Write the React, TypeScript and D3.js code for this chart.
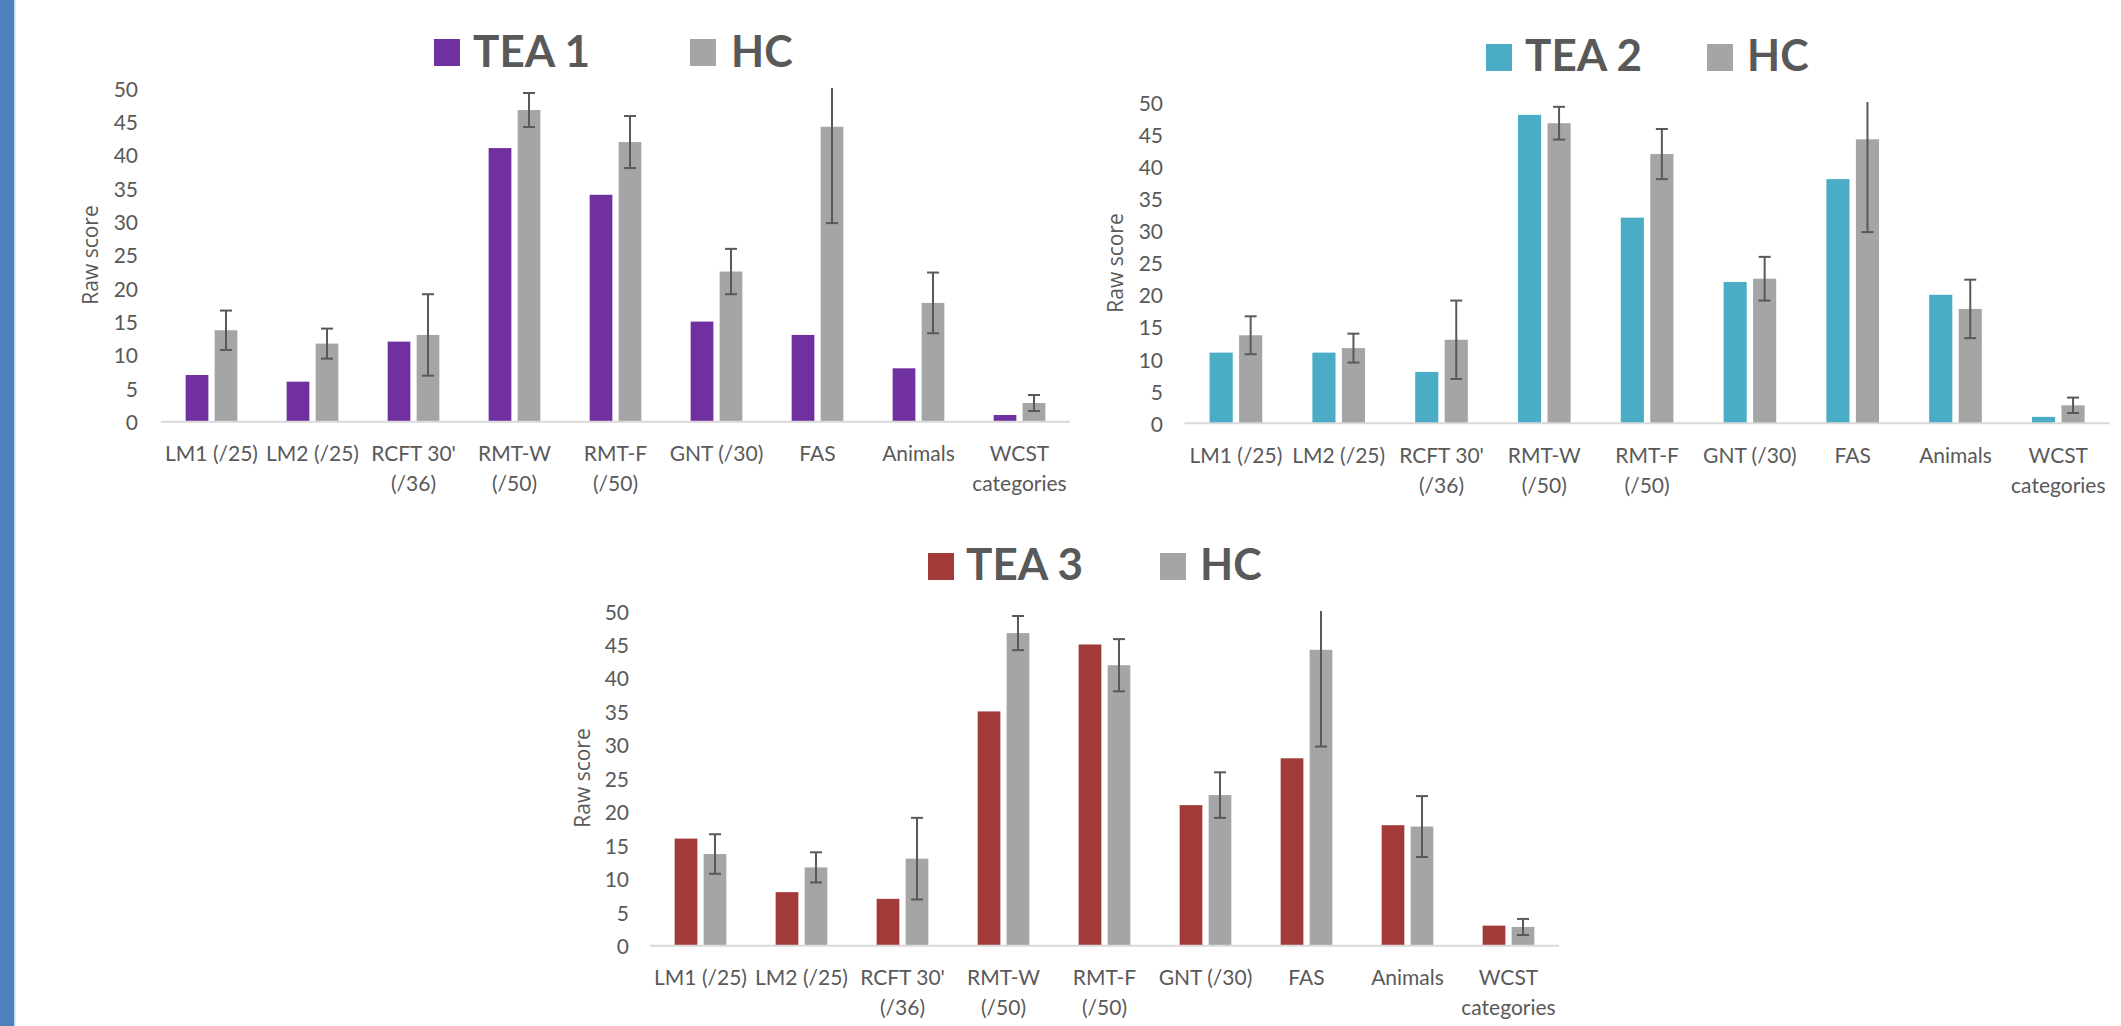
import React from 'react';
import * as d3 from 'd3';

const categories = ['LM1', 'LM2', 'RCFT', 'RMT-W', 'RMT-F', 'GNT', 'FAS', 'Animals', 'WCST'];
const categoryLabels = [
  ['LM1 (/25)'],
  ['LM2 (/25)'],
  ["RCFT 30'", '(/36)'],
  ['RMT-W', '(/50)'],
  ['RMT-F', '(/50)'],
  ['GNT (/30)'],
  ['FAS'],
  ['Animals'],
  ['WCST', 'categories'],
];

const tea1 = [7, 6, 12, 41, 34, 15, 13, 8, 1];
const tea2 = [11, 11, 8, 48, 32, 22, 38, 20, 1];
const tea3 = [16, 8, 7, 35, 45, 21, 28, 18, 3];
const hcMean = [13.7, 11.7, 13, 46.7, 41.9, 22.5, 44.2, 17.8, 2.8];
const hcErr = [2.95, 2.25, 6.1, 2.55, 3.9, 3.4, 14.45, 4.55, 1.2];

const yTicks = [0, 5, 10, 15, 20, 25, 30, 35, 40, 45, 50];

const TEXT = '#595959';
const HC_COLOR = '#A5A5A5';

const panels = [
  {
    name: 'TEA 1', values: tea1, color: '#7030A0',
    x0: 161, band: 101, y0: 421.7, yTop: 88,
    tickX: 138, rawX: 90, rawY: 255,
    legend: { sq: 434, sqY: 39, text: 473, base: 67, hcSq: 690, hcText: 731 },
  },
  {
    name: 'TEA 2', values: tea2, color: '#4BACC6',
    x0: 1184.5, band: 102.8, y0: 423.3, yTop: 102,
    tickX: 1163, rawX: 1115, rawY: 263,
    legend: { sq: 1486, sqY: 44, text: 1525, base: 71, hcSq: 1707, hcText: 1747 },
  },
  {
    name: 'TEA 3', values: tea3, color: '#A33A3A',
    x0: 650, band: 101, y0: 945.7, yTop: 611,
    tickX: 629, rawX: 582, rawY: 778,
    legend: { sq: 928, sqY: 553, text: 966, base: 580, hcSq: 1160, hcText: 1200 },
  },
];

function Panel({ p }) {
  const x = d3.scaleBand()
    .domain(categories)
    .range([p.x0, p.x0 + p.band * categories.length])
    .padding(0);
  const y = d3.scaleLinear().domain([0, 50]).range([p.y0, p.yTop]);
  const bw = x.bandwidth();
  const barW = bw * 0.225;
  const gap = bw * 0.062;
  const off = (bw - 2 * barW - gap) / 2;

  return (
    <g>
      {/* legend */}
      <rect x={p.legend.sq} y={p.legend.sqY} width={26} height={27} fill={p.color} />
      <text x={p.legend.text} y={p.legend.base} fontFamily="Lato" fontWeight="bold" fontSize={44} fill={TEXT}>{p.name}</text>
      <rect x={p.legend.hcSq} y={p.legend.sqY} width={26} height={27} fill={HC_COLOR} />
      <text x={p.legend.hcText} y={p.legend.base} fontFamily="Lato" fontWeight="bold" fontSize={43} fill={TEXT}>HC</text>

      {/* y ticks */}
      {yTicks.map(t => (
        <text key={t} x={p.tickX} y={y(t)} textAnchor="end" dominantBaseline="central"
          fontFamily="Lato" fontSize={21} fill={TEXT}>{t}</text>
      ))}
      <text transform={`translate(${p.rawX},${p.rawY}) rotate(-90)`} textAnchor="middle" dominantBaseline="central"
        fontFamily="Open Sans" fontSize={21} fill={TEXT}>Raw score</text>

      {/* bars + HC error bars */}
      {categories.map((c, i) => {
        const bx = x(c) + off;
        const hx = bx + barW + gap;
        const m = hcMean[i];
        const top = Math.min(50, m + hcErr[i]);
        const bot = m - hcErr[i];
        const cx = hx + barW / 2;
        return (
          <g key={c}>
            <rect x={bx} y={y(p.values[i])} width={barW} height={y(0) - y(p.values[i])} fill={p.color} />
            <rect x={hx} y={y(m)} width={barW} height={y(0) - y(m)} fill={HC_COLOR} />
            <line x1={cx} x2={cx} y1={y(top)} y2={y(bot)} stroke={TEXT} strokeWidth={2} />
            {m + hcErr[i] <= 50 && (
              <line x1={cx - 6} x2={cx + 6} y1={y(top)} y2={y(top)} stroke={TEXT} strokeWidth={2} />
            )}
            <line x1={cx - 6} x2={cx + 6} y1={y(bot)} y2={y(bot)} stroke={TEXT} strokeWidth={2} />
          </g>
        );
      })}

      {/* baseline */}
      <line x1={p.x0} x2={p.x0 + p.band * categories.length} y1={y(0)} y2={y(0)} stroke="#D9D9D9" strokeWidth={2} />

      {/* category labels */}
      {categories.map((c, i) => (
        <text key={c} x={x(c) + bw / 2} textAnchor="middle" fontFamily="Lato" fontSize={21} fill={TEXT}>
          {categoryLabels[i].map((line, j) => (
            <tspan key={j} x={x(c) + bw / 2} y={y(0) + 31 + j * 30} dominantBaseline="central">{line}</tspan>
          ))}
        </text>
      ))}
    </g>
  );
}

export default function App() {
  return (
    <div style={{ position: 'absolute', left: 0, top: 0 }}>
      <svg width={2121} height={1026} style={{ display: 'block', background: '#fff' }}>
        <rect x={0} y={0} width={14} height={1026} fill="#4F81BD" />
        <rect x={14} y={0} width={1.5} height={1026} fill="#C6D9F1" />
        {panels.map(p => <Panel key={p.name} p={p} />)}
      </svg>
    </div>
  );
}
